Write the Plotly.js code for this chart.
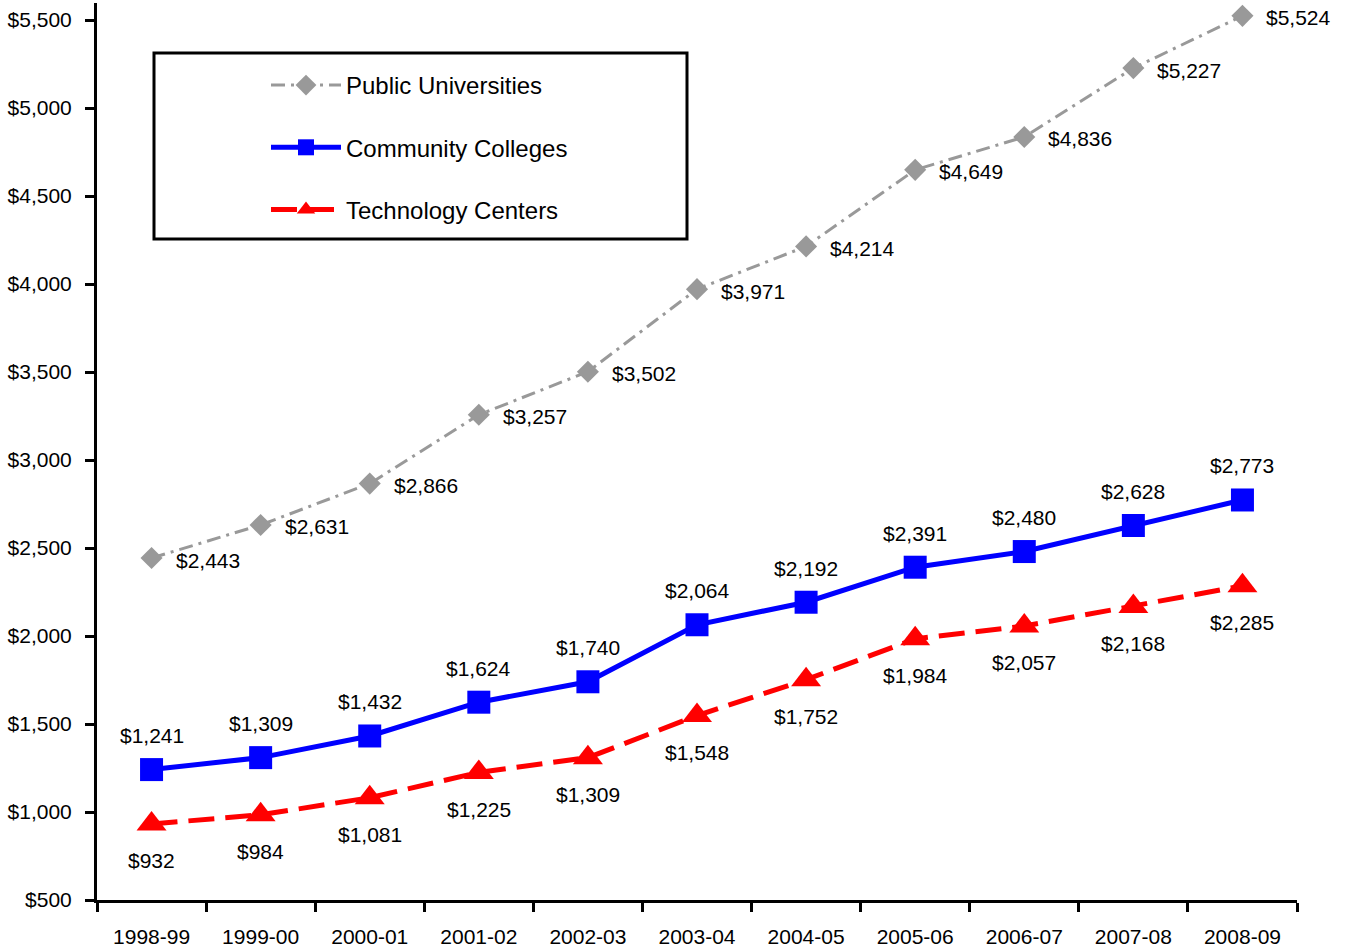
<!DOCTYPE html>
<html>
<head>
<meta charset="utf-8">
<script src="https://cdn.plot.ly/plotly-3.0.1.min.js"></script>
<style>html,body{margin:0;padding:0;background:#fff;}#chart{width:1346px;height:952px;}</style>
</head>
<body>
<div id="chart"></div>
<script>
const years = ["1998-99","1999-00","2000-01","2001-02","2002-03","2003-04","2004-05","2005-06","2006-07","2007-08","2008-09"];
const publicUniversities = [2443,2631,2866,3257,3502,3971,4214,4649,4836,5227,5524];
const communityColleges = [1241,1309,1432,1624,1740,2064,2192,2391,2480,2628,2773];
const technologyCenters = [932,984,1081,1225,1309,1548,1752,1984,2057,2168,2285];
const yTickVals = [500,1000,1500,2000,2500,3000,3500,4000,4500,5000,5500];

const fmt = v => "$" + v.toLocaleString("en-US");
const font = "Arial, 'Liberation Sans', sans-serif";
const FS = 21;

const traces = [
  {
    x: years, y: publicUniversities, name: "Public Universities", type: "scatter", mode: "lines+markers",
    legendgroup: "a",
    line: {color: "#999999", width: 3, dash: "14px,6px,3px,6px"},
    marker: {symbol: "diamond", size: 17, color: "#999999"}
  },
  {
    x: years, y: communityColleges, name: "Community Colleges", type: "scatter", mode: "lines+markers",
    legendgroup: "b",
    line: {color: "#0000FF", width: 5},
    marker: {symbol: "square", size: 23, color: "#0000FF"}
  },
  {
    x: years, y: technologyCenters, name: "Technology Centers", type: "scatter", mode: "lines+markers",
    legendgroup: "c",
    line: {color: "#FF0000", width: 5, dash: "26px,11px"},
    marker: {symbol: "triangle-up", size: 26, color: "#FF0000"}
  }
];

const annotations = [];
years.forEach((yr, i) => {
  annotations.push({x: yr, y: publicUniversities[i], xref: "x", yref: "y", text: fmt(publicUniversities[i]),
    showarrow: false, xanchor: "left", yanchor: "middle", xshift: 22, yshift: -2});
  annotations.push({x: yr, y: communityColleges[i], xref: "x", yref: "y", text: fmt(communityColleges[i]),
    showarrow: false, xanchor: "center", yanchor: "middle", yshift: 34});
  annotations.push({x: yr, y: technologyCenters[i], xref: "x", yref: "y", text: fmt(technologyCenters[i]),
    showarrow: false, xanchor: "center", yanchor: "middle", yshift: -37});
});

const L = 97, R = 1297, T = 3, B = 900;
const px = v => (v - L) / (R - L);
const py = v => (B - v) / (B - T);

const layout = {
  width: 1346, height: 952,
  margin: {l: L, r: 1346 - R, t: T, b: 952 - B},
  paper_bgcolor: "#fff", plot_bgcolor: "#fff",
  font: {family: font, size: FS, color: "#000"},
  showlegend: true,
  legend: {
    x: px(266), y: py(63), xanchor: "left", yanchor: "top",
    bgcolor: "rgba(0,0,0,0)", borderwidth: 0,
    traceorder: "grouped", tracegroupgap: 28, itemwidth: 70,
    font: {family: font, size: 24, color: "#000"}
  },
  annotations: annotations,
  xaxis: {
    type: "category", range: [-0.5, 10.5], tickson: "boundaries",
    ticks: "outside", ticklen: 9, tickwidth: 3, tickcolor: "#000",
    showline: true, linewidth: 3, linecolor: "#000", showgrid: false, zeroline: false,
    tickfont: {family: font, size: FS, color: "#000"}, ticklabelstandoff: 16
  },
  yaxis: {
    range: [500, 5597], tickvals: yTickVals, ticktext: yTickVals.map(fmt),
    ticks: "outside", ticklen: 9, tickwidth: 3, tickcolor: "#000",
    showline: true, linewidth: 3, linecolor: "#000", showgrid: false, zeroline: false,
    tickfont: {family: font, size: FS, color: "#000"}, ticklabelstandoff: 9
  },
  shapes: [{
    type: "rect", xref: "paper", yref: "paper",
    x0: px(154), x1: px(687), y0: py(239), y1: py(53),
    line: {color: "#000", width: 3}, fillcolor: "rgba(0,0,0,0)"
  }]
};

Plotly.newPlot("chart", traces, layout, {displayModeBar: false, staticPlot: true});
</script>
</body>
</html>
